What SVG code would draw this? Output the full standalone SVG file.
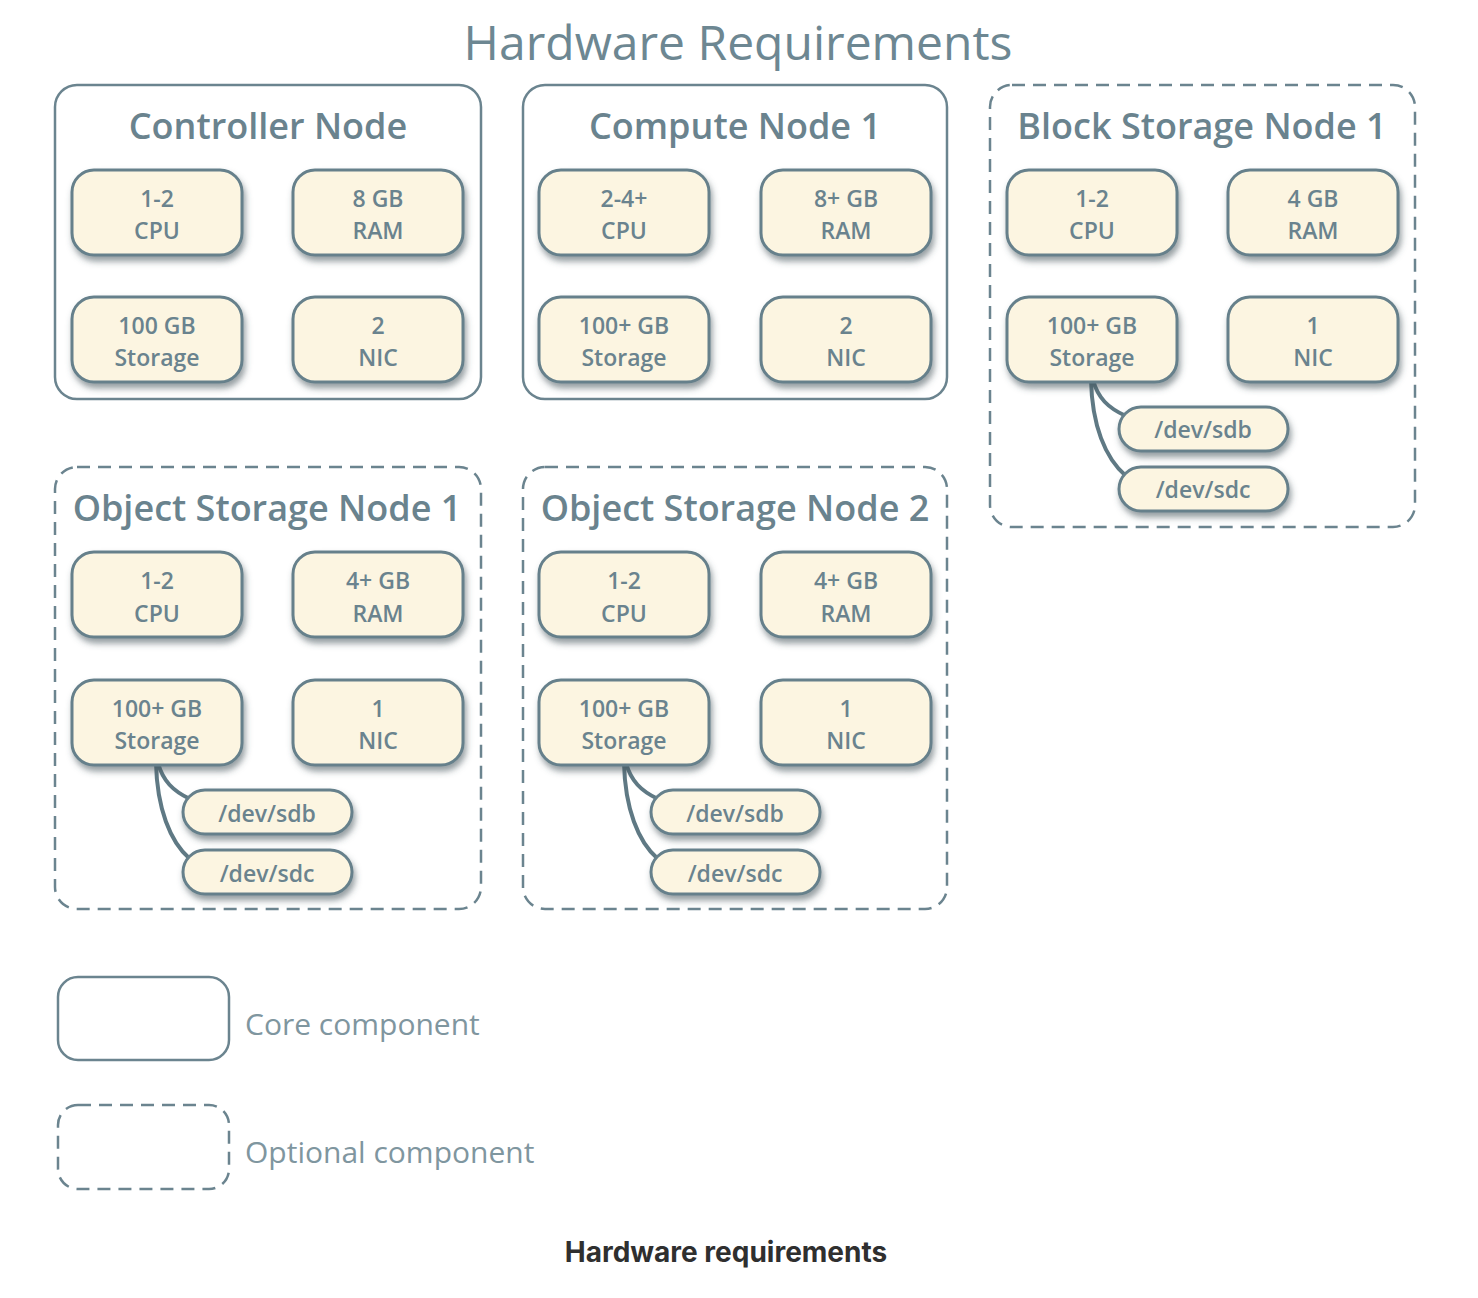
<svg xmlns="http://www.w3.org/2000/svg" width="1478" height="1298" viewBox="0 0 1478 1298">
<defs>
<filter id="sh" x="-20%" y="-20%" width="140%" height="160%">
<feDropShadow dx="2" dy="5" stdDeviation="3" flood-color="#3e4f57" flood-opacity="0.55"/>
</filter>
<style>
.core{fill:#fff;stroke:#6b848f;stroke-width:2.5}
.opt{fill:#fff;stroke:#6b848f;stroke-width:2.5;stroke-dasharray:13 8}
.comp{fill:#fcf5e1;stroke:#66808b;stroke-width:3;filter:url(#sh)}
.t{font-family:"Open Sans","Noto Sans",sans-serif;fill:#6a838e;text-anchor:middle}
.nt{font-size:36px;font-weight:600}
.ct{font-size:23px;font-weight:600}
.lg{font-family:"Open Sans","Noto Sans",sans-serif;fill:#7f969f;font-size:30px}
.wire{fill:none;stroke:#5f7984;stroke-width:4}
</style>
</defs>
<rect width="1478" height="1298" fill="#fff"/>
<text class="t" x="738" y="60" style="font-size:48px;fill:#6d8792">Hardware Requirements</text>

<g id="controller-node">
<rect class="core" x="55" y="85" width="426" height="314" rx="22"/>
<text class="t nt" x="268" y="139">Controller Node</text>
<g id="ctrl-cpu"><rect class="comp" x="72" y="170" width="170" height="85" rx="22"/><text class="t ct" x="157" y="207">1-2</text><text class="t ct" x="157" y="239">CPU</text></g>
<g id="ctrl-ram"><rect class="comp" x="293" y="170" width="170" height="85" rx="22"/><text class="t ct" x="378" y="207">8 GB</text><text class="t ct" x="378" y="239">RAM</text></g>
<g id="ctrl-storage"><rect class="comp" x="72" y="297" width="170" height="85" rx="22"/><text class="t ct" x="157" y="334">100 GB</text><text class="t ct" x="157" y="366">Storage</text></g>
<g id="ctrl-nic"><rect class="comp" x="293" y="297" width="170" height="85" rx="22"/><text class="t ct" x="378" y="334">2</text><text class="t ct" x="378" y="366">NIC</text></g>
</g>

<g id="compute-node-1">
<rect class="core" x="523" y="85" width="424" height="314" rx="22"/>
<text class="t nt" x="735" y="139">Compute Node 1</text>
<g id="comp-cpu"><rect class="comp" x="539" y="170" width="170" height="85" rx="22"/><text class="t ct" x="624" y="207">2-4+</text><text class="t ct" x="624" y="239">CPU</text></g>
<g id="comp-ram"><rect class="comp" x="761" y="170" width="170" height="85" rx="22"/><text class="t ct" x="846" y="207">8+ GB</text><text class="t ct" x="846" y="239">RAM</text></g>
<g id="comp-storage"><rect class="comp" x="539" y="297" width="170" height="85" rx="22"/><text class="t ct" x="624" y="334">100+ GB</text><text class="t ct" x="624" y="366">Storage</text></g>
<g id="comp-nic"><rect class="comp" x="761" y="297" width="170" height="85" rx="22"/><text class="t ct" x="846" y="334">2</text><text class="t ct" x="846" y="366">NIC</text></g>
</g>

<g id="block-storage-node-1">
<rect class="opt" x="990" y="85" width="425" height="442" rx="22"/>
<text class="t nt" x="1202" y="139">Block Storage Node 1</text>
</g>

<g id="object-storage-node-1">
<rect class="opt" x="55" y="467" width="426" height="442" rx="22"/>
<text class="t nt" x="267" y="521">Object Storage Node 1</text>
</g>

<g id="object-storage-node-2">
<rect class="opt" x="523" y="467" width="424" height="442" rx="22"/>
<text class="t nt" x="735" y="521">Object Storage Node 2</text>
</g>

<g id="connectors">
<path class="wire" d="M1093 380 C1098 398,1108 408,1126 416"/>
<path class="wire" d="M1091 380 C1092 425,1105 458,1126 476"/>
<path class="wire" d="M158 763 C163 781,173 791,190 799"/>
<path class="wire" d="M156 763 C157 808,170 842,190 859"/>
<path class="wire" d="M626 763 C631 781,641 791,658 799"/>
<path class="wire" d="M624 763 C625 808,638 842,658 859"/>
</g>

<g id="block-components">
<g id="blk-cpu"><rect class="comp" x="1007" y="170" width="170" height="85" rx="22"/><text class="t ct" x="1092" y="207">1-2</text><text class="t ct" x="1092" y="239">CPU</text></g>
<g id="blk-ram"><rect class="comp" x="1228" y="170" width="170" height="85" rx="22"/><text class="t ct" x="1313" y="207">4 GB</text><text class="t ct" x="1313" y="239">RAM</text></g>
<g id="blk-storage"><rect class="comp" x="1007" y="297" width="170" height="85" rx="22"/><text class="t ct" x="1092" y="334">100+ GB</text><text class="t ct" x="1092" y="366">Storage</text></g>
<g id="blk-nic"><rect class="comp" x="1228" y="297" width="170" height="85" rx="22"/><text class="t ct" x="1313" y="334">1</text><text class="t ct" x="1313" y="366">NIC</text></g>
<g id="blk-sdb"><rect class="comp" x="1119" y="407" width="169" height="44" rx="22"/><text class="t ct" x="1203" y="438">/dev/sdb</text></g>
<g id="blk-sdc"><rect class="comp" x="1119" y="467" width="169" height="44" rx="22"/><text class="t ct" x="1203" y="498">/dev/sdc</text></g>
</g>

<g id="obj1-components">
<g id="obj1-cpu"><rect class="comp" x="72" y="552" width="170" height="85" rx="22"/><text class="t ct" x="157" y="589">1-2</text><text class="t ct" x="157" y="622">CPU</text></g>
<g id="obj1-ram"><rect class="comp" x="293" y="552" width="170" height="85" rx="22"/><text class="t ct" x="378" y="589">4+ GB</text><text class="t ct" x="378" y="622">RAM</text></g>
<g id="obj1-storage"><rect class="comp" x="72" y="680" width="170" height="85" rx="22"/><text class="t ct" x="157" y="717">100+ GB</text><text class="t ct" x="157" y="749">Storage</text></g>
<g id="obj1-nic"><rect class="comp" x="293" y="680" width="170" height="85" rx="22"/><text class="t ct" x="378" y="717">1</text><text class="t ct" x="378" y="749">NIC</text></g>
<g id="obj1-sdb"><rect class="comp" x="183" y="790" width="169" height="44" rx="22"/><text class="t ct" x="267" y="822">/dev/sdb</text></g>
<g id="obj1-sdc"><rect class="comp" x="183" y="850" width="169" height="44" rx="22"/><text class="t ct" x="267" y="882">/dev/sdc</text></g>
</g>

<g id="obj2-components">
<g id="obj2-cpu"><rect class="comp" x="539" y="552" width="170" height="85" rx="22"/><text class="t ct" x="624" y="589">1-2</text><text class="t ct" x="624" y="622">CPU</text></g>
<g id="obj2-ram"><rect class="comp" x="761" y="552" width="170" height="85" rx="22"/><text class="t ct" x="846" y="589">4+ GB</text><text class="t ct" x="846" y="622">RAM</text></g>
<g id="obj2-storage"><rect class="comp" x="539" y="680" width="170" height="85" rx="22"/><text class="t ct" x="624" y="717">100+ GB</text><text class="t ct" x="624" y="749">Storage</text></g>
<g id="obj2-nic"><rect class="comp" x="761" y="680" width="170" height="85" rx="22"/><text class="t ct" x="846" y="717">1</text><text class="t ct" x="846" y="749">NIC</text></g>
<g id="obj2-sdb"><rect class="comp" x="651" y="790" width="169" height="44" rx="22"/><text class="t ct" x="735" y="822">/dev/sdb</text></g>
<g id="obj2-sdc"><rect class="comp" x="651" y="850" width="169" height="44" rx="22"/><text class="t ct" x="735" y="882">/dev/sdc</text></g>
</g>

<g id="legend">
<rect class="core" x="58" y="977" width="171" height="83" rx="20"/>
<text class="lg" x="245" y="1035">Core component</text>
<rect class="opt" x="58" y="1105" width="171" height="84" rx="20"/>
<text class="lg" x="245" y="1163">Optional component</text>
</g>

<text x="726" y="1262" style="font-family:Inter,'Liberation Sans',sans-serif;font-weight:700;font-size:28px;fill:#2f2f2f;text-anchor:middle">Hardware requirements</text>
</svg>
